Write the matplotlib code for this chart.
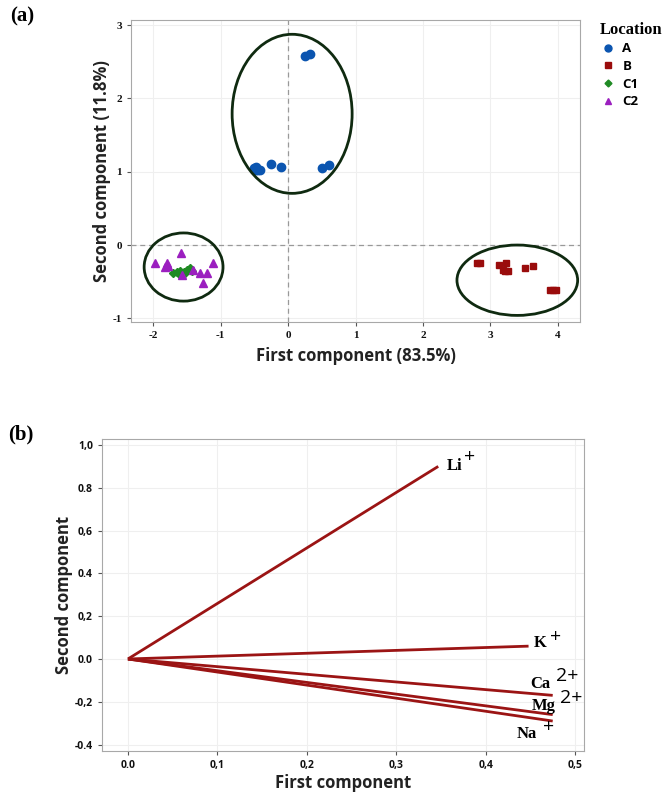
import matplotlib
matplotlib.use("Agg")
import matplotlib.pyplot as plt
from matplotlib.patches import Ellipse
from matplotlib.lines import Line2D

plt.rcParams['axes.unicode_minus'] = False

# ---- dados (a): escores do PCA por local ----
a_x = [0.25, 0.33, -0.50, -0.47, -0.45, -0.42, -0.48, -0.25, -0.10, 0.50, 0.60]
a_y = [2.58, 2.60, 1.05, 1.06, 1.02, 1.03, 1.02, 1.10, 1.06, 1.05, 1.09]

b_x = [2.80, 2.85, 3.13, 3.23, 3.19, 3.26, 3.22, 3.52, 3.63, 3.88, 3.93, 3.98]
b_y = [-0.25, -0.24, -0.27, -0.24, -0.34, -0.35, -0.36, -0.32, -0.29, -0.61, -0.61, -0.61]

c1_x = [-1.70, -1.65, -1.60, -1.55, -1.50, -1.45, -1.42, -1.62, -1.55]
c1_y = [-0.38, -0.37, -0.36, -0.37, -0.34, -0.32, -0.35, -0.40, -0.40]

c2_x = [-1.97, -1.80, -1.78, -1.83, -1.59, -1.57, -1.41, -1.30, -1.21, -1.26, -1.12]
c2_y = [-0.25, -0.25, -0.29, -0.30, -0.11, -0.41, -0.34, -0.38, -0.38, -0.52, -0.25]

# elipses de agrupamento (centro x, centro y, largura, altura)
elipse_cx = [0.06, -1.55, 3.40]
elipse_cy = [1.79, -0.30, -0.48]
elipse_w = [1.78, 1.17, 1.79]
elipse_h = [2.17, 0.93, 0.96]

# ---- dados (b): cargas ----
ions = ["Li", "K", "Ca", "Mg", "Na"]
cargas_ion = ["+", "+", "2+", "2+", "+"]
load_x = [0.347, 0.448, 0.475, 0.475, 0.475]
load_y = [0.90, 0.06, -0.17, -0.26, -0.29]

b_yticks = [1.0, 0.8, 0.6, 0.4, 0.2, 0.0, -0.2, -0.4]
b_yticklabels = ["1,0", "0.8", "0,6", "0.4", "0,2", "0.0", "-0,2", "-0.4"]
b_xticks = [0.0, 0.1, 0.2, 0.3, 0.4, 0.5]
b_xticklabels = ["0.0", "0,1", "0,2", "0,3", "0,4", "0,5"]

SANS = "Open Sans"
SERIF = "Liberation Serif"
spine_cor = "#a8a8a8"
grid_cor = "#efefef"

fig = plt.figure(figsize=(6.72, 7.95), dpi=100)

# ---------------- painel (a) ----------------
ax1 = fig.add_axes([131/672, 1-322/795, 449/672, 302/795])
ax1.set_xlim(-2.33, 4.33)
ax1.set_ylim(-1.05, 3.07)
ax1.set_xticks([-2, -1, 0, 1, 2, 3, 4])
ax1.set_yticks([-1, 0, 1, 2, 3])
ax1.grid(True, color=grid_cor, lw=0.8)
ax1.set_axisbelow(True)
ax1.axhline(0, color="#999999", ls=(0, (4, 3)), lw=0.9, zorder=1)
ax1.axvline(0, color="#999999", ls=(0, (4, 3)), lw=0.9, zorder=1)

ax1.plot(a_x, a_y, "o", color="#0b55b0", ms=6, ls="none", zorder=3)
ax1.plot(b_x, b_y, "s", color="#9a0c0c", ms=5, ls="none", zorder=3)
ax1.plot(c1_x, c1_y, "D", color="#1f8a24", ms=4, ls="none", zorder=3)
ax1.plot(c2_x, c2_y, "^", color="#9b1fbf", ms=5.5, ls="none", zorder=3)

for cx, cy, w, h in zip(elipse_cx, elipse_cy, elipse_w, elipse_h):
    ax1.add_patch(Ellipse((cx, cy), w, h, fill=False, ec="#0f2a10", lw=2, zorder=4))

for s in ax1.spines.values():
    s.set_color(spine_cor)
ax1.tick_params(colors="#555555", length=3, labelcolor="#111111")
for lab in ax1.get_xticklabels() + ax1.get_yticklabels():
    lab.set_fontfamily(SERIF)
    lab.set_fontweight("bold")
    lab.set_fontsize(8)

ax1.set_xlabel("First component (83.5%)", fontfamily=SANS, fontweight="bold",
               fontsize=12, color="#222222", labelpad=5)
ax1.set_ylabel("Second component (11.8%)", fontfamily=SANS, fontweight="bold",
               fontsize=12, color="#222222", labelpad=1)

handles = [
    Line2D([], [], marker="o", color="#0b55b0", ls="none", ms=5),
    Line2D([], [], marker="s", color="#9a0c0c", ls="none", ms=4),
    Line2D([], [], marker="D", color="#1f8a24", ls="none", ms=3.5),
    Line2D([], [], marker="^", color="#9b1fbf", ls="none", ms=4.5),
]
leg = fig.legend(handles, ["A", "B", "C1", "C2"], title="Location",
                 loc="upper left", bbox_to_anchor=(588/672, 1-10/795),
                 frameon=False, handletextpad=0.5, labelspacing=0.35,
                 handlelength=1.2, prop={"family": SANS, "weight": "bold", "size": 9.5})
leg.get_title().set_fontfamily(SERIF)
leg.get_title().set_fontweight("bold")
leg.get_title().set_fontsize(12)
leg._legend_box.align = "left"

fig.text(10/672, 1-16/795, "(a)", fontfamily=SERIF, fontweight="bold",
         fontsize=15, va="center", ha="left")

# ---------------- painel (b) ----------------
ax2 = fig.add_axes([102/672, 1-751/795, 482/672, 312/795])
ax2.set_xlim(-0.029, 0.51)
ax2.set_ylim(-0.43, 1.028)
ax2.set_xticks(b_xticks)
ax2.set_xticklabels(b_xticklabels)
ax2.set_yticks(b_yticks)
ax2.set_yticklabels(b_yticklabels)
ax2.grid(True, color=grid_cor, lw=0.8)
ax2.set_axisbelow(True)

for xi, yi in zip(load_x, load_y):
    ax2.plot([0, xi], [0, yi], color="#9b1414", lw=2, solid_capstyle="butt")

# deslocamentos dos rótulos (pixels) em relação à ponta do vetor
off_base = [(9, 0), (5, 3), (-22, 11), (-21, 9), (-36, -13)]
off_sup = [(26, 9), (21, 9), (3, 19), (7, 17), (-10, -6)]
px = 0.72
for nome, carga, xi, yi, ob, osup in zip(ions, cargas_ion, load_x, load_y, off_base, off_sup):
    ax2.annotate(nome, (xi, yi), xytext=(ob[0]*px, ob[1]*px), textcoords="offset points",
                 ha="left", va="center", fontfamily=SERIF, fontweight="bold", fontsize=12)
    ax2.annotate(carga, (xi, yi), xytext=(osup[0]*px, osup[1]*px), textcoords="offset points",
                 ha="left", va="center", fontfamily=SANS, fontsize=14)

for s in ax2.spines.values():
    s.set_color(spine_cor)
ax2.tick_params(colors="#555555", length=3, labelcolor="#111111")
for lab in ax2.get_xticklabels() + ax2.get_yticklabels():
    lab.set_fontfamily(SANS)
    lab.set_fontweight("bold")
    lab.set_fontsize(7.5)

ax2.set_xlabel("First component", fontfamily=SANS, fontweight="bold",
               fontsize=12, color="#222222", labelpad=2)
ax2.set_ylabel("Second component", fontfamily=SANS, fontweight="bold",
               fontsize=12, color="#222222", labelpad=1)

fig.text(8/672, 1-434/795, "(b)", fontfamily=SERIF, fontweight="bold",
         fontsize=15, va="center", ha="left")

fig.savefig("out.png", dpi=100)
